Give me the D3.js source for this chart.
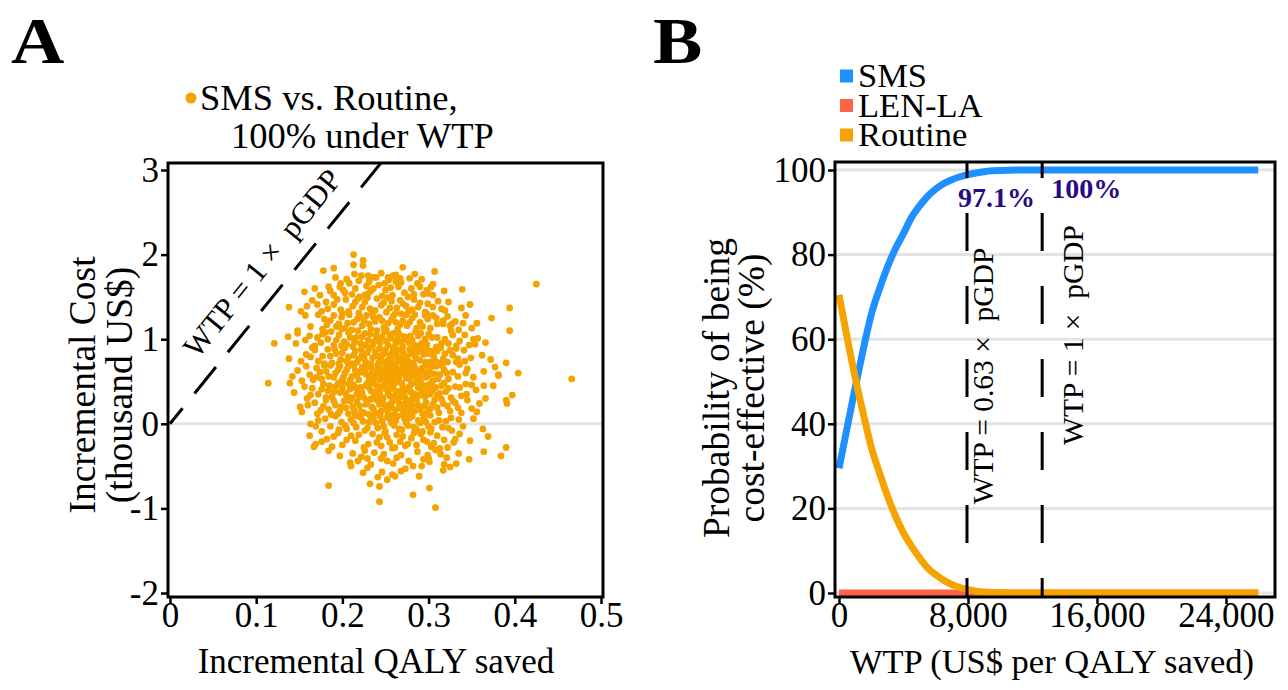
<!DOCTYPE html>
<html><head><meta charset="utf-8">
<script src="https://cdn.jsdelivr.net/npm/d3@7"></script>
<style>
body{margin:0;background:#fff}
text{font-family:"Liberation Serif","Times New Roman",serif;fill:#000}
</style>
</head><body>
<svg id="chart" width="1288" height="690"></svg>
<script>
// ---------- Panel A data: [incremental QALY saved, incremental cost (thousand US$)] ----------
const psaPoints = [
[.213,2.0],[.224,1.93],[.224,1.87],[.213,1.88],
[.178,1.81],[.19,1.84],[.192,1.73],[.222,1.75],[.23,1.75],[.236,1.73],[.239,1.73],[.253,1.73],[.254,1.70],[.267,1.72],[.278,1.72],[.307,1.80],[.245,1.78],[.262,1.76],[.205,1.71],[.292,1.71],[.214,1.77],[.27,1.85],
[.168,1.6],[.156,1.56],[.184,1.62],[.198,1.66],[.197,1.62],[.201,1.58],[.208,1.66],[.22,1.5],[.226,1.52],[.23,1.54],[.305,1.65],[.303,1.62],[.339,1.59],[.305,1.52],[.3,1.54],[.294,1.53],[.215,1.6],[.242,1.64],[.25,1.58],[.258,1.52],[.265,1.62],[.272,1.55],[.28,1.6],[.287,1.66],[.211,1.53],[.236,1.6],[.246,1.51],[.262,1.68],[.19,1.52],[.276,1.5],[.318,1.57],[.425,1.65],
[.203,1.55],[.219,1.69],[.228,1.63],[.233,1.57],[.249,1.66],[.256,1.61],[.268,1.67],[.283,1.53],[.29,1.62],[.298,1.58],[.186,1.57],[.174,1.52],[.259,1.75],[.284,1.77],[.231,1.68],
[.138,1.38],[.159,1.39],[.181,1.44],[.311,1.45],[.299,1.42],[.288,1.38],[.394,1.37],[.338,1.37],[.319,1.34],[.315,1.36],[.298,1.3],[.296,1.32],[.176,1.33],[.19,1.41],[.198,1.35],[.204,1.47],[.212,1.39],[.219,1.31],[.226,1.44],[.232,1.36],[.24,1.48],[.245,1.4],[.251,1.32],[.257,1.45],[.263,1.37],[.27,1.42],[.277,1.33],[.283,1.47],[.2,1.3],[.235,1.3],[.268,1.3],[.165,1.46],[.252,1.49],[.323,1.44],[.348,1.41],[.218,1.48],
[.183,1.36],[.194,1.47],[.207,1.33],[.215,1.44],[.223,1.38],[.229,1.49],[.238,1.34],[.248,1.43],[.255,1.37],[.261,1.3],[.267,1.46],[.274,1.39],[.281,1.35],[.29,1.43],[.305,1.38],[.152,1.33],[.171,1.41],
[.157,1.28],[.172,1.29],[.305,1.28],[.296,1.28],[.373,1.25],[.343,1.28],[.331,1.21],[.327,1.18],[.325,1.16],[.335,1.11],[.317,1.22],[.317,1.18],[.31,1.18],[.148,1.1],[.177,1.12],[.186,1.22],[.193,1.15],[.199,1.26],[.206,1.19],[.211,1.11],[.217,1.24],[.223,1.16],[.228,1.28],[.233,1.12],[.238,1.21],[.243,1.26],[.248,1.14],[.253,1.19],[.259,1.27],[.264,1.12],[.27,1.22],[.275,1.16],[.281,1.25],[.286,1.13],[.29,1.2],[.208,1.29],[.24,1.1],[.262,1.2],[.182,1.17],[.356,1.19],[.35,1.13],[.274,1.29],[.225,1.22],[.199,1.12],[.302,1.13],
[.163,1.15],[.179,1.24],[.19,1.28],[.196,1.18],[.203,1.13],[.213,1.2],[.22,1.27],[.231,1.18],[.236,1.26],[.246,1.22],[.251,1.11],[.257,1.23],[.267,1.17],[.278,1.2],[.284,1.29],[.293,1.15],[.299,1.24],[.309,1.25],[.322,1.27],[.34,1.19],
[.148,1.07],[.177,1.06],[.121,.95],[.146,.95],[.326,1.1],[.3,1.06],[.288,1.04],[.292,.95],[.352,1.0],[.357,1.01],[.354,.94],[.336,.98],[.332,.92],[.323,.95],[.315,.95],[.394,1.1],[.168,.92],[.183,1.0],[.19,.93],[.196,1.05],[.202,.97],[.207,1.08],[.212,.91],[.216,1.02],[.221,.95],[.226,1.07],[.23,.99],[.235,.92],[.239,1.04],[.244,.96],[.249,1.09],[.253,.93],[.257,1.01],[.262,.95],[.266,1.06],[.27,.91],[.274,.99],[.279,1.04],[.283,.93],[.187,1.09],[.205,.94],[.241,1.0],[.259,1.07],[.277,.96],[.296,1.0],[.309,.91],[.171,1.02],[.366,.96],[.342,1.05],[.227,.93],[.264,1.0],[.218,1.1],[.157,.99],[.31,1.02],[.285,1.09],
[.162,1.04],[.175,.96],[.18,1.08],[.193,.99],[.199,.92],[.209,1.02],[.214,.96],[.223,1.03],[.232,1.06],[.237,.97],[.246,1.03],[.251,.98],[.255,1.05],[.26,.91],[.268,.97],[.272,1.03],[.281,.99],[.287,.92],[.291,1.07],[.298,.94],[.304,1.02],[.319,1.0],[.328,1.05],[.347,.93],[.137,1.03],
[.138,.77],[.168,.87],[.172,.74],[.341,.87],[.332,.89],[.325,.87],[.319,.83],[.334,.77],[.332,.73],[.39,.72],[.177,.8],[.183,.88],[.188,.72],[.193,.83],[.198,.76],[.203,.9],[.207,.79],[.211,.71],[.215,.86],[.219,.77],[.223,.82],[.227,.73],[.231,.89],[.235,.78],[.238,.85],[.242,.72],[.246,.81],[.25,.88],[.253,.75],[.257,.83],[.26,.71],[.263,.79],[.266,.87],[.269,.74],[.272,.82],[.275,.77],[.278,.88],[.281,.72],[.284,.8],[.287,.85],[.29,.75],[.294,.82],[.298,.88],[.302,.73],[.306,.79],[.31,.86],[.313,.72],[.255,.8],[.261,.86],[.268,.78],[.28,.83],[.244,.77],[.222,.88],[.2,.84],[.349,.78],[.362,.81],[.314,.9],[.196,.71],[.158,.82],[.273,.71],[.248,.73],
[.152,.74],[.163,.79],[.179,.71],[.186,.8],[.191,.88],[.205,.74],[.213,.81],[.217,.73],[.225,.78],[.229,.84],[.233,.71],[.24,.8],[.243,.89],[.249,.84],[.252,.71],[.256,.76],[.259,.88],[.262,.82],[.265,.74],[.27,.85],[.274,.79],[.277,.73],[.283,.87],[.286,.77],[.292,.89],[.296,.73],[.3,.83],[.304,.86],[.308,.74],[.317,.77],[.322,.73],[.328,.81],[.342,.74],[.372,.76],[.165,.9],
[.148,.63],[.336,.7],[.343,.6],[.377,.67],[.381,.58],[.466,.53],[.381,.57],[.153,.51],[.162,.58],[.17,.66],[.176,.53],[.181,.62],[.186,.69],[.19,.55],[.195,.64],[.199,.51],[.203,.6],[.207,.68],[.211,.56],[.215,.63],[.219,.52],[.223,.67],[.227,.59],[.231,.54],[.234,.65],[.238,.57],[.241,.69],[.244,.52],[.247,.61],[.25,.66],[.253,.55],[.256,.63],[.259,.58],[.262,.68],[.265,.51],[.268,.6],[.271,.65],[.274,.54],[.277,.62],[.28,.57],[.283,.69],[.286,.53],[.289,.6],[.293,.66],[.297,.55],[.301,.62],[.305,.51],[.309,.68],[.313,.58],[.318,.64],[.323,.53],[.328,.61],[.352,.55],[.364,.62],[.258,.53],[.252,.6],[.264,.64],[.276,.68],[.245,.58],[.235,.6],[.226,.64],[.288,.64],[.299,.69],[.17,.55],[.404,.6],
[.158,.68],[.166,.52],[.174,.61],[.179,.69],[.184,.56],[.192,.6],[.197,.68],[.201,.55],[.205,.64],[.209,.52],[.213,.69],[.217,.58],[.221,.61],[.229,.67],[.233,.58],[.237,.52],[.24,.62],[.243,.66],[.249,.53],[.254,.67],[.257,.57],[.261,.62],[.266,.56],[.27,.69],[.273,.6],[.278,.53],[.282,.64],[.285,.58],[.29,.54],[.295,.61],[.3,.57],[.303,.67],[.307,.59],[.311,.53],[.316,.69],[.321,.6],[.334,.56],[.345,.65],[.142,.56],
[.114,.48],[.139,.48],[.144,.37],[.159,.3],[.364,.45],[.375,.45],[.397,.34],[.343,.47],[.344,.35],[.336,.43],[.165,.42],[.172,.35],[.178,.47],[.183,.39],[.188,.32],[.192,.44],[.197,.37],[.201,.49],[.205,.33],[.209,.41],[.213,.46],[.217,.36],[.221,.43],[.225,.31],[.229,.48],[.233,.39],[.237,.34],[.24,.45],[.244,.4],[.247,.31],[.25,.47],[.253,.36],[.257,.42],[.26,.33],[.263,.49],[.266,.38],[.27,.44],[.273,.31],[.276,.41],[.28,.47],[.284,.35],[.288,.43],[.292,.38],[.296,.32],[.3,.46],[.305,.4],[.31,.34],[.315,.45],[.32,.38],[.326,.31],[.331,.44],[.355,.4],[.256,.48],[.268,.32],[.243,.35],[.28,.37],[.231,.43],[.219,.32],[.291,.49],[.302,.35],[.207,.47],[.185,.45],
[.156,.44],[.163,.34],[.176,.41],[.181,.31],[.19,.38],[.195,.48],[.2,.42],[.204,.36],[.211,.31],[.215,.43],[.223,.37],[.227,.45],[.235,.48],[.239,.38],[.242,.32],[.246,.44],[.251,.41],[.255,.33],[.259,.46],[.262,.39],[.265,.31],[.269,.48],[.272,.37],[.278,.44],[.282,.32],[.286,.48],[.29,.34],[.294,.45],[.298,.39],[.303,.48],[.308,.43],[.313,.36],[.318,.48],[.323,.42],[.338,.33],[.35,.46],
[.151,.2],[.153,.14],[.39,.28],[.391,.24],[.359,.24],[.356,.14],[.334,.19],[.338,.13],[.317,.24],[.168,.25],[.175,.16],[.181,.28],[.187,.11],[.192,.22],[.197,.15],[.202,.27],[.207,.12],[.212,.2],[.217,.26],[.222,.14],[.227,.23],[.231,.11],[.236,.18],[.24,.28],[.245,.15],[.249,.22],[.253,.12],[.258,.26],[.262,.17],[.266,.24],[.271,.11],[.275,.2],[.279,.27],[.284,.15],[.288,.22],[.293,.12],[.297,.25],[.302,.18],[.307,.28],[.312,.13],[.322,.21],[.328,.27],[.345,.28],[.233,.29],[.257,.19],[.283,.29],[.215,.1],[.199,.2],[.302,.1],[.27,.16],[.366,.3],
[.16,.22],[.171,.12],[.178,.21],[.184,.17],[.19,.27],[.195,.12],[.204,.19],[.209,.27],[.214,.15],[.22,.21],[.225,.13],[.229,.27],[.234,.2],[.238,.13],[.243,.23],[.247,.29],[.251,.17],[.255,.23],[.26,.11],[.264,.29],[.268,.19],[.273,.25],[.277,.14],[.281,.21],[.286,.28],[.29,.17],[.295,.21],[.299,.14],[.305,.23],[.31,.19],[.315,.29],[.325,.15],[.331,.25],[.35,.18],
[.163,0],[.169,-.03],[.176,-.09],[.186,-.03],[.196,-.07],[.205,-.06],[.352,.06],[.326,.07],[.32,.03],[.34,-.03],[.327,-.08],[.303,-.06],[.302,-.1],[.363,-.06],[.21,.05],[.216,-.04],[.221,.08],[.226,-.08],[.231,.02],[.236,.07],[.241,-.05],[.246,.03],[.25,-.09],[.255,.06],[.26,-.02],[.264,.09],[.269,-.07],[.274,.01],[.278,.07],[.283,-.04],[.288,.04],[.293,-.09],[.297,.02],[.312,.04],[.18,.06],[.192,.09],[.244,.09],[.316,-.04],[.257,.01],
[.172,.04],[.199,.02],[.203,-.02],[.213,.01],[.218,.09],[.224,.03],[.229,-.05],[.233,.05],[.239,.01],[.248,-.03],[.252,.08],[.262,.04],[.266,-.06],[.272,.06],[.276,-.02],[.281,.09],[.286,-.07],[.29,.01],[.295,.07],[.3,-.03],[.307,.02],[.323,-.05],[.335,.05],
[.162,-.14],[.169,-.24],[.167,-.27],[.19,-.15],[.2,-.25],[.21,-.14],[.225,-.28],[.226,-.32],[.245,-.26],[.273,-.26],[.31,-.14],[.298,-.21],[.331,-.18],[.329,-.22],[.322,-.28],[.369,-.15],[.39,-.28],[.215,-.2],[.235,-.12],[.24,-.22],[.252,-.16],[.258,-.29],[.263,-.13],[.267,-.21],[.28,-.17],[.286,-.25],[.291,-.12],[.303,-.27],[.318,-.19],[.182,-.18],[.195,-.11],[.249,-.11],
[.176,-.21],[.188,-.27],[.205,-.19],[.219,-.13],[.23,-.24],[.243,-.16],[.255,-.22],[.261,-.28],[.27,-.15],[.276,-.24],[.283,-.11],[.294,-.19],[.306,-.23],[.313,-.29],[.336,-.12],[.348,-.2],
[.184,-.32],[.209,-.46],[.21,-.5],[.212,-.35],[.222,-.39],[.229,-.41],[.245,-.41],[.259,-.47],[.282,-.5],[.292,-.5],[.314,-.36],[.299,-.37],[.3,-.41],[.301,-.45],[.318,-.48],[.332,-.47],[.325,-.51],[.335,-.35],[.364,-.33],[.384,-.38],[.237,-.34],[.268,-.37],[.252,-.44],[.287,-.33],
[.197,-.38],[.218,-.44],[.233,-.48],[.248,-.36],[.263,-.4],[.277,-.44],[.294,-.42],[.308,-.31],[.321,-.4],[.347,-.42],
[.273,-.53],[.258,-.6],[.261,-.62],[.246,-.57],[.241,-.63],[.232,-.71],[.243,-.74],[.243,-.92],[.184,-.73],[.282,-.84],[.301,-.76],[.308,-.99],[.317,-.55],
[.224,-.58],[.252,-.66],[.268,-.56],[.289,-.62],[.229,-.52]
];
const aXTicks = [0, 0.1, 0.2, 0.3, 0.4, 0.5];
const aYTicks = [-2, -1, 0, 1, 2, 3];
const pGDPThousand = 12.6;          // slope of the WTP = 1 x pGDP line (thousand US$ per QALY)
const aLegend = ["SMS vs. Routine,", "100% under WTP"];

// ---------- Panel B data: acceptability curves ----------
const wtp        = [0,500,1000,1500,2000,2500,3000,3500,4000,4500,5000,5500,6000,6500,7000,7500,8000,8500,9000,9500,10000,11000,12000,14000,16000,18000,20000,22000,24000,26000];
const smsProb    = [29.5,39,48.5,57.5,65.8,71.8,77,81.4,85,88.8,91.5,93.8,95.5,96.8,97.7,98.4,98.9,99.3,99.6,99.8,99.9,100,100,100,100,100,100,100,100,100];
const lenlaProb  = [0,0,0,0,0,0,0,0,0,0,0,0,0,0,0,0,0,0,0,0,0,0,0,0,0,0,0,0,0,0];
const routineProb= [70.5,60.5,51,42.5,34.5,28.5,23,18.2,14.2,11,8.3,5.9,4.3,3,2,1.3,0.8,0.45,0.25,0.12,0.05,0,0,0,0,0,0,0,0,0];
const seriesNames = ["SMS","LEN-LA","Routine"];
const seriesColors = ["#1e90ff","#ff6347","#f5a300"];
const thresholdWTP = [7938, 12600];
const thresholdLabels = ["WTP = 0.63 \u00d7\u00a0 pGDP", "WTP = 1 \u00d7\u00a0 pGDP"];
const thresholdPct = ["97.1%", "100%"];
const bXTicks = [0, 8000, 16000, 24000];
const bYTicks = [0, 20, 40, 60, 80, 100];

const svg = d3.select("#chart");
const orange = "#f5a300";

function styleAxis(g){
  g.select(".domain").remove();
  g.selectAll(".tick line").attr("stroke","#000").attr("stroke-width",2.5);
  g.selectAll(".tick text").attr("font-size",35).attr("fill","#000").attr("font-family","Liberation Serif");
}

// ================= Panel A =================
const A = {l:168, r:603, t:163, b:597};
const xA = d3.scaleLinear().domain([0,0.5]).range([170,601]);
const yA = d3.scaleLinear().domain([-2,3]).range([593,170]);

svg.append("text").attr("transform","translate(11,63) scale(1.12,1)").attr("font-size",66).attr("font-weight","bold").text("A");

svg.append("line").attr("x1",A.l).attr("x2",A.r).attr("y1",yA(0)).attr("y2",yA(0))
  .attr("stroke","#e3e3e3").attr("stroke-width",3);

svg.append("clipPath").attr("id","clipA").append("rect")
  .attr("x",A.l).attr("y",A.t).attr("width",A.r-A.l).attr("height",A.b-A.t);
svg.append("line").attr("clip-path","url(#clipA)")
  .attr("x1",xA(0)).attr("y1",yA(0)).attr("x2",xA(3.12/pGDPThousand)).attr("y2",yA(3.12))
  .attr("stroke","#000").attr("stroke-width",3).attr("stroke-dasharray","34,19").attr("stroke-dashoffset",14);

svg.append("g").selectAll("circle").data(psaPoints).join("circle")
  .attr("cx",d=>xA(d[0])).attr("cy",d=>yA(d[1])).attr("r",3.4).attr("fill",orange);

{
  const ang = Math.atan2(yA(3)-yA(0), xA(3/pGDPThousand)-xA(0))*180/Math.PI;
  const c = 1.68, mx = xA(c/pGDPThousand), my = yA(c);
  svg.append("text").attr("transform",`translate(${mx},${my}) rotate(${ang}) translate(0,-19)`)
    .attr("text-anchor","middle").attr("font-size",31)
    .text("WTP = 1 \u00d7\u00a0 pGDP");
}

svg.append("rect").attr("x",A.l).attr("y",A.t).attr("width",A.r-A.l).attr("height",A.b-A.t)
  .attr("fill","none").attr("stroke","#000").attr("stroke-width",3);

const axA_x = svg.append("g").attr("transform",`translate(0,${A.b})`)
  .call(d3.axisBottom(xA).tickValues(aXTicks).tickSize(7).tickFormat(d=>d===0?"0":d3.format(".1f")(d)));
const axA_y = svg.append("g").attr("transform",`translate(${A.l},0)`)
  .call(d3.axisLeft(yA).tickValues(aYTicks).tickSize(7).tickFormat(d=>String(d)));
styleAxis(axA_x); styleAxis(axA_y);
axA_x.selectAll(".tick text").attr("y",30).attr("dy",0);
axA_y.selectAll(".tick text").attr("x",-9);

svg.append("text").attr("x",376).attr("y",673).attr("text-anchor","middle").attr("font-size",35).text("Incremental QALY saved");
svg.append("text").attr("transform","translate(95,385) rotate(-90)").attr("text-anchor","middle").attr("font-size",37.5).text("Incremental Cost");
svg.append("text").attr("transform","translate(132,385) rotate(-90)").attr("text-anchor","middle").attr("font-size",37.5).text("(thousand US$)");

svg.append("circle").attr("cx",191).attr("cy",98).attr("r",5.5).attr("fill",orange);
svg.append("text").attr("x",200).attr("y",110).attr("font-size",36.5).text(aLegend[0]);
svg.append("text").attr("x",231).attr("y",148).attr("font-size",36.5).text(aLegend[1]);

// ================= Panel B =================
const B = {l:835, r:1275, t:162, b:597};
const xB = d3.scaleLinear().domain([0,27040]).range([839,1275]);
const yB = d3.scaleLinear().domain([0,100]).range([593,170]);

svg.append("text").attr("transform","translate(653,63) scale(1.12,1)").attr("font-size",66).attr("font-weight","bold").text("B");

svg.append("g").selectAll("line").data(bYTicks).join("line")
  .attr("x1",B.l).attr("x2",B.r).attr("y1",d=>yB(d)).attr("y2",d=>yB(d))
  .attr("stroke","#e3e3e3").attr("stroke-width",3);

const seriesData = [smsProb, lenlaProb, routineProb];
const lineGen = d3.line().x((d,i)=>xB(wtp[i])).y(d=>yB(d)).curve(d3.curveMonotoneX);
svg.append("g").selectAll("path").data(seriesData).join("path")
  .attr("d",d=>lineGen(d)).attr("fill","none")
  .attr("stroke",(d,i)=>seriesColors[i]).attr("stroke-width",7);

svg.append("g").selectAll("line").data(thresholdWTP).join("line")
  .attr("x1",d=>xB(d)).attr("x2",d=>xB(d)).attr("y1",B.t).attr("y2",B.b)
  .attr("stroke","#000").attr("stroke-width",3).attr("stroke-dasharray","38,35").attr("stroke-dashoffset",22);

const lblPos = [{dx:26, cy:376},{dx:41, cy:335}];
thresholdWTP.forEach((w,i)=>{
  svg.append("text").attr("transform",`translate(${xB(w)+lblPos[i].dx},${lblPos[i].cy}) rotate(-90)`)
    .attr("text-anchor","middle").attr("font-size",29.5).attr("fill","#111").text(thresholdLabels[i]);
});
svg.append("text").attr("x",xB(thresholdWTP[0])-9).attr("y",207).attr("font-size",28).attr("font-weight","bold")
  .style("fill","#2a0a84").text(thresholdPct[0]);
svg.append("text").attr("x",xB(thresholdWTP[1])+9).attr("y",198).attr("font-size",28).attr("font-weight","bold")
  .style("fill","#2a0a84").text(thresholdPct[1]);

svg.append("rect").attr("x",B.l).attr("y",B.t).attr("width",B.r-B.l).attr("height",B.b-B.t)
  .attr("fill","none").attr("stroke","#000").attr("stroke-width",3);

const axB_x = svg.append("g").attr("transform",`translate(0,${B.b})`)
  .call(d3.axisBottom(xB).tickValues(bXTicks).tickSize(7).tickFormat(d3.format(",")));
const axB_y = svg.append("g").attr("transform",`translate(${B.l},0)`)
  .call(d3.axisLeft(yB).tickValues(bYTicks).tickSize(7));
styleAxis(axB_x); styleAxis(axB_y);
axB_x.selectAll(".tick text").attr("y",30).attr("dy",0);
axB_y.selectAll(".tick text").attr("x",-9);

svg.append("text").attr("x",1052).attr("y",673).attr("text-anchor","middle").attr("font-size",34.5).text("WTP (US$ per QALY saved)");
svg.append("text").attr("transform","translate(729,388) rotate(-90)").attr("text-anchor","middle").attr("font-size",37.5).text("Probability of being");
svg.append("text").attr("transform","translate(764,388) rotate(-90)").attr("text-anchor","middle").attr("font-size",37.5).text("cost-effective (%)");

seriesNames.forEach((n,i)=>{
  const cy = 76 + i*29.5;
  svg.append("rect").attr("x",840).attr("y",cy-6.5).attr("width",13).attr("height",13).attr("fill",seriesColors[i]);
  svg.append("text").attr("x",858).attr("y",cy+11).attr("font-size",34.5).text(n);
});
</script>
</body></html>
